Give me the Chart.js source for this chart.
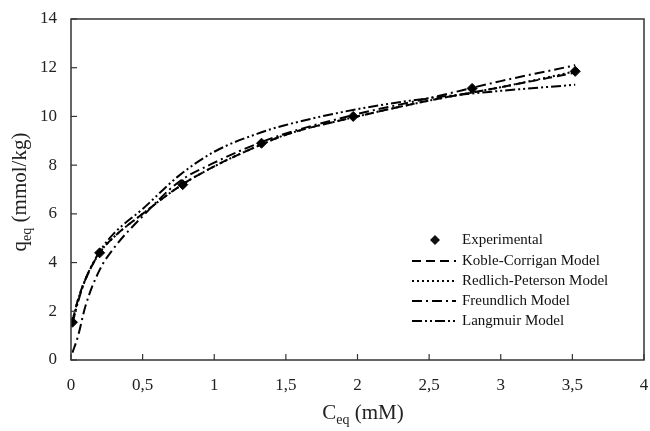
<!DOCTYPE html>
<html><head><meta charset="utf-8">
<script src="https://cdn.jsdelivr.net/npm/chart.js@4"></script>
<style>html,body{margin:0;padding:0;background:#fff;}#wrap{width:650px;height:431px;position:relative;}</style>
</head><body><div id="wrap"><canvas id="c" width="650" height="431"></canvas></div>
<script>
const expC = [0.01, 0.2, 0.78, 1.33, 1.97, 2.8, 3.52];
const expQ = [1.55, 4.4, 7.2, 8.9, 10.0, 11.15, 11.85];
const modelC = [0.01, 0.05, 0.1, 0.2, 0.3, 0.5, 0.75, 1.0, 1.33, 1.5, 2.0, 2.5, 3.0, 3.52];
const koble = [1.6, 2.5, 3.3, 4.4, 5.05, 6.0, 7.1, 7.95, 8.85, 9.25, 10.0, 10.65, 11.2, 11.8];
const redlich = [1.6, 2.5, 3.3, 4.4, 5.05, 6.0, 7.1, 7.95, 8.85, 9.25, 10.0, 10.65, 11.2, 11.85];
const freundlich = [0.3, 1.0, 2.2, 3.7, 4.6, 5.9, 7.3, 8.1, 8.95, 9.3, 10.1, 10.75, 11.45, 12.1];
const langmuir = [1.5, 2.4, 3.3, 4.45, 5.2, 6.2, 7.55, 8.55, 9.35, 9.65, 10.3, 10.75, 11.05, 11.3];
const xTicks = [0, 0.5, 1, 1.5, 2, 2.5, 3, 3.5, 4];
const yTicks = [0, 2, 4, 6, 8, 10, 12, 14];
const seriesNames = ['Experimental', 'Koble-Corrigan Model', 'Redlich-Peterson Model', 'Freundlich Model', 'Langmuir Model'];
const dashes = [null, [9, 5], [2, 3], [10, 4, 2, 4], [10, 3, 2, 3, 2, 3]];

const FONT = "'Liberation Serif', 'Times New Roman', serif";
const pts = (xs, ys) => xs.map((x, i) => ({x: x, y: ys[i]}));
const lineDs = (name, data, dash) => ({
  label: name, data: data, borderColor: '#000', borderWidth: 2, borderDash: dash,
  pointRadius: 0, showLine: true, fill: false, tension: 0.4, cubicInterpolationMode: 'monotone'
});

const overlay = {
  id: 'overlay',
  afterDraw(chart) {
    const ctx = chart.ctx, a = chart.chartArea, xs = chart.scales.x, ys = chart.scales.y;
    ctx.save();
    ctx.strokeStyle = '#333'; ctx.lineWidth = 1.5;
    ctx.strokeRect(a.left, a.top, a.right - a.left, a.bottom - a.top);
    ctx.lineWidth = 1.2;
    xTicks.forEach(v => { const p = xs.getPixelForValue(v); ctx.beginPath(); ctx.moveTo(p, a.bottom); ctx.lineTo(p, a.bottom - 6); ctx.stroke(); });
    yTicks.forEach(v => { const p = ys.getPixelForValue(v); ctx.beginPath(); ctx.moveTo(a.left, p); ctx.lineTo(a.left + 6, p); ctx.stroke(); });
    // legend
    ctx.fillStyle = '#111'; ctx.textBaseline = 'middle'; ctx.textAlign = 'left';
    ctx.font = '15px ' + FONT;
    const rowY = [240, 261, 281, 301, 321];
    seriesNames.forEach((n, i) => {
      const y = rowY[i];
      if (i === 0) {
        ctx.beginPath(); ctx.moveTo(435, y - 5); ctx.lineTo(440, y); ctx.lineTo(435, y + 5); ctx.lineTo(430, y); ctx.closePath(); ctx.fill();
      } else {
        ctx.setLineDash(dashes[i]); ctx.lineWidth = 2; ctx.strokeStyle = '#000';
        ctx.beginPath(); ctx.moveTo(412, y); ctx.lineTo(456, y); ctx.stroke(); ctx.setLineDash([]);
      }
      ctx.fillText(n, 462, y);
    });
    // axis titles
    const drawSub = (main, sub, rest, size) => {
      ctx.font = size + 'px ' + FONT; const w1 = ctx.measureText(main).width;
      ctx.font = Math.round(size * 0.65) + 'px ' + FONT; const w2 = ctx.measureText(sub).width;
      ctx.font = size + 'px ' + FONT; const w3 = ctx.measureText(rest).width;
      let x = -(w1 + w2 + w3) / 2;
      ctx.textAlign = 'left'; ctx.textBaseline = 'alphabetic';
      ctx.fillText(main, x, 0); x += w1;
      ctx.font = Math.round(size * 0.65) + 'px ' + FONT; ctx.fillText(sub, x, size * 0.25); x += w2;
      ctx.font = size + 'px ' + FONT; ctx.fillText(rest, x, 0);
    };
    ctx.fillStyle = '#222';
    ctx.save(); ctx.translate(363, 419); drawSub('C', 'eq', ' (mM)', 21); ctx.restore();
    ctx.save(); ctx.translate(26, 192); ctx.rotate(-Math.PI / 2); drawSub('q', 'eq', ' (mmol/kg)', 21); ctx.restore();
    ctx.restore();
  }
};

new Chart(document.getElementById('c'), {
  type: 'scatter',
  data: {
    datasets: [
      {label: seriesNames[0], data: pts(expC, expQ), pointStyle: 'rectRot', pointRadius: 5, pointBackgroundColor: '#000', pointBorderColor: '#000', showLine: false, order: 0},
      Object.assign(lineDs(seriesNames[1], pts(modelC, koble), dashes[1]), {order: 1}),
      Object.assign(lineDs(seriesNames[2], pts(modelC, redlich), dashes[2]), {order: 2}),
      Object.assign(lineDs(seriesNames[3], pts(modelC, freundlich), dashes[3]), {order: 3}),
      Object.assign(lineDs(seriesNames[4], pts(modelC, langmuir), dashes[4]), {order: 4})
    ]
  },
  options: {
    responsive: false, animation: false, devicePixelRatio: 1,
    layout: {padding: {left: 0, right: 5, top: 19, bottom: 0}},
    plugins: {legend: {display: false}, tooltip: {enabled: false}},
    scales: {
      x: {
        type: 'linear', min: 0, max: 4,
        afterBuildTicks: s => { s.ticks = xTicks.map(v => ({value: v})); },
        afterFit: s => { s.height = 71; s.paddingLeft = 0; s.paddingRight = 0; },
        grid: {display: false, drawTicks: false}, border: {display: false},
        ticks: {padding: 15, color: '#222', font: {family: FONT, size: 17}, maxRotation: 0,
          callback: v => String(v).replace('.', ',')}
      },
      y: {
        type: 'linear', min: 0, max: 14,
        afterBuildTicks: s => { s.ticks = yTicks.map(v => ({value: v})); },
        afterFit: s => { s.width = 71; s.paddingTop = 0; s.paddingBottom = 0; },
        grid: {display: false, drawTicks: false}, border: {display: false},
        ticks: {padding: 14, color: '#222', font: {family: FONT, size: 17}}
      }
    }
  },
  plugins: [overlay]
});
</script></body></html>
